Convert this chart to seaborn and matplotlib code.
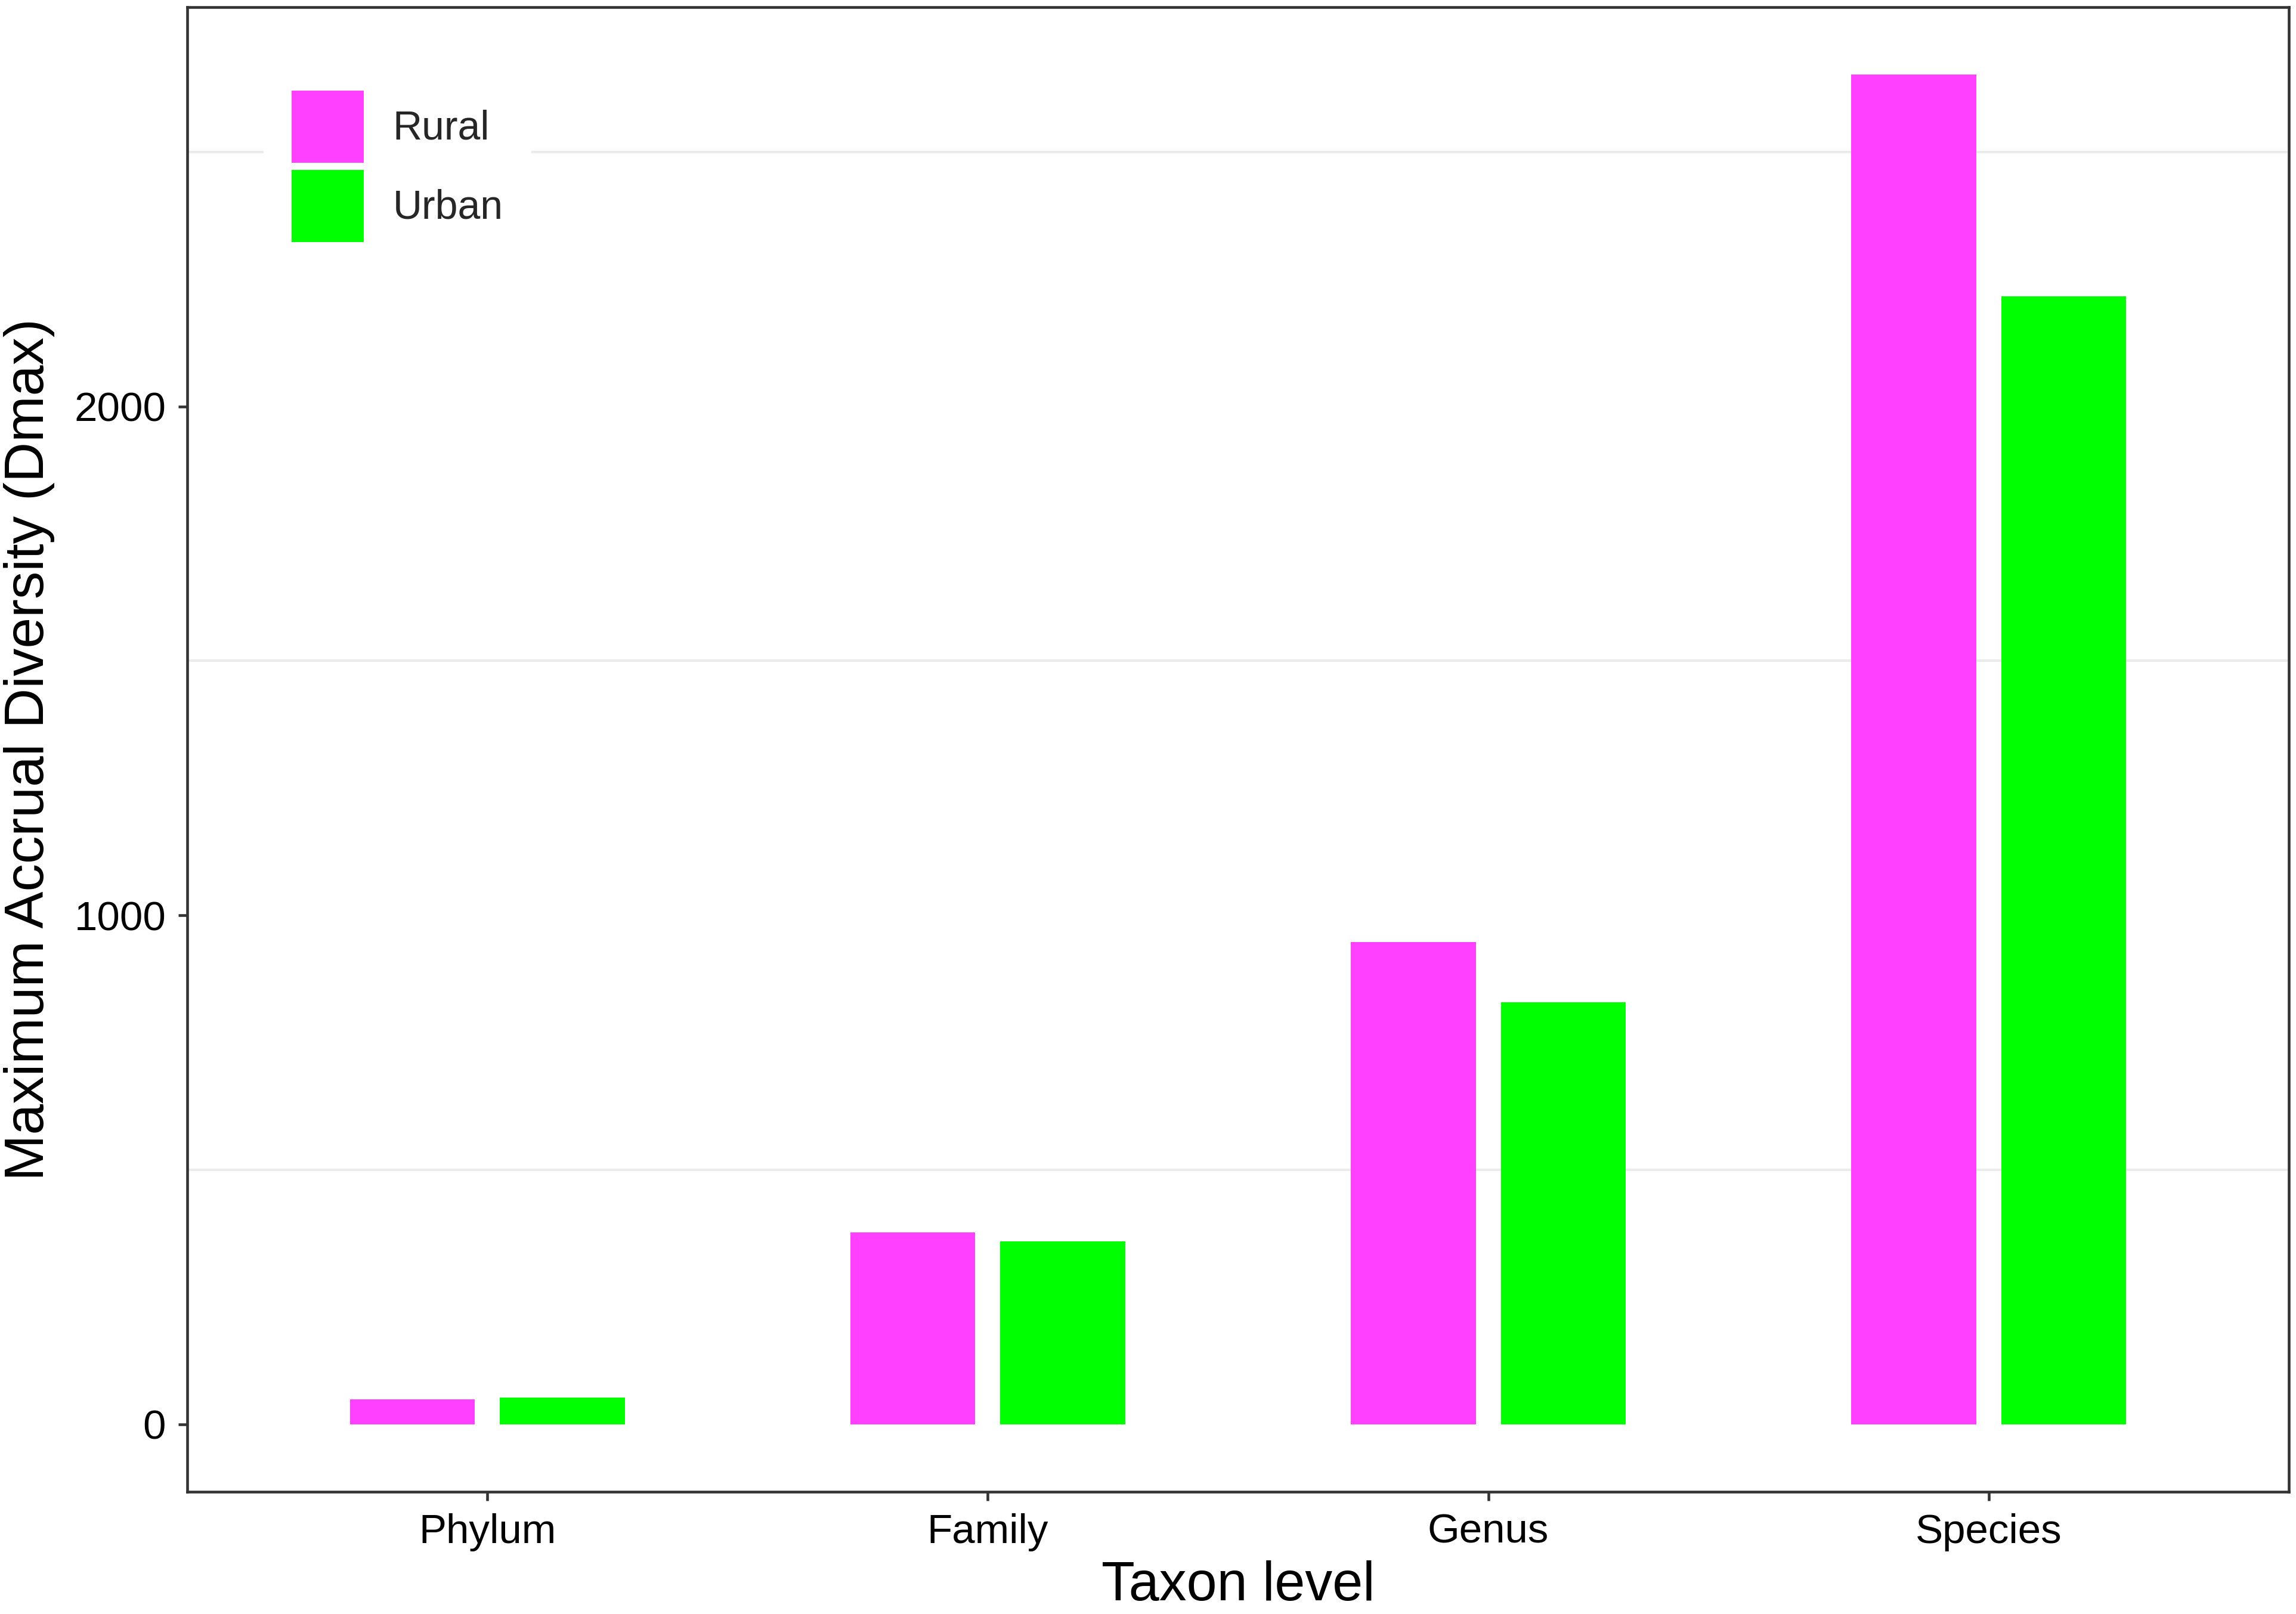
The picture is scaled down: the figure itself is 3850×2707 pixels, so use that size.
import pandas as pd
import matplotlib
matplotlib.use('Agg')
import matplotlib.pyplot as plt
import seaborn as sns

# values
taxa = ['Phylum', 'Family', 'Genus', 'Species']
rural = [49, 377, 947, 2652]
urban = [52, 360, 829, 2216]
sites = ['Rural', 'Urban']
site_colors = {'Rural': '#FF40FF', 'Urban': '#00FF00'}
y_major = [0, 1000, 2000]
y_minor = [500, 1500, 2500]

df = pd.DataFrame({
    'taxon': taxa * 2,
    'dmax': rural + urban,
    'site': ['Rural'] * len(taxa) + ['Urban'] * len(taxa),
})

sns.set_theme(style='white')
plt.rcParams['font.family'] = ['Liberation Sans', 'DejaVu Sans']

fig = plt.figure(figsize=(3850 / 300, 2707 / 300), dpi=300)
ax = fig.add_axes([314 / 3850, 1 - 2502 / 2707, 3524 / 3850, 2490 / 2707])

sns.barplot(data=df, x='taxon', y='dmax', hue='site', order=taxa,
            hue_order=sites, palette=site_colors, width=0.6, gap=1 / 6,
            saturation=1, linewidth=0, ax=ax)

# ggplot-like expansion
ymax = max(rural + urban)
ax.set_ylim(-0.05 * ymax, 1.05 * ymax)
ax.set_xlim(-0.6, len(taxa) - 0.4)

ax.set_yticks(y_major)
ax.set_yticks(y_minor, minor=True)
ax.grid(False)
ax.yaxis.grid(True, which='minor', color='#EBEBEB', linewidth=1.0)
ax.set_axisbelow(True)

for s in ax.spines.values():
    s.set_color('#333333')
    s.set_linewidth(1.1)
    s.set_visible(True)

ax.tick_params(axis='both', which='major', length=3.6, width=1.1,
               color='#333333', labelsize=16.6, labelcolor='black', pad=5,
               bottom=True, left=True)
ax.tick_params(axis='y', which='minor', length=0)

ax.set_xlabel('Taxon level', fontsize=22, color='black')
ax.set_ylabel('Maximum Accrual Diversity (Dmax)', fontsize=22.3, color='black')
ax.xaxis.set_label_coords(0.5, -0.046)
ax.yaxis.set_label_coords(-0.063, 0.5)

handles, labels = ax.get_legend_handles_labels()
ax.legend(handles, labels, loc='upper left', bbox_to_anchor=(0.0363, 0.9627),
          borderaxespad=0, frameon=True, facecolor='white', edgecolor='none',
          framealpha=1, fancybox=False, fontsize=16.3, handlelength=1.77,
          handleheight=2.36, labelspacing=0.18, handletextpad=0.72,
          borderpad=0.7, title=None)

fig.savefig('out.png', dpi=300, facecolor='white')
